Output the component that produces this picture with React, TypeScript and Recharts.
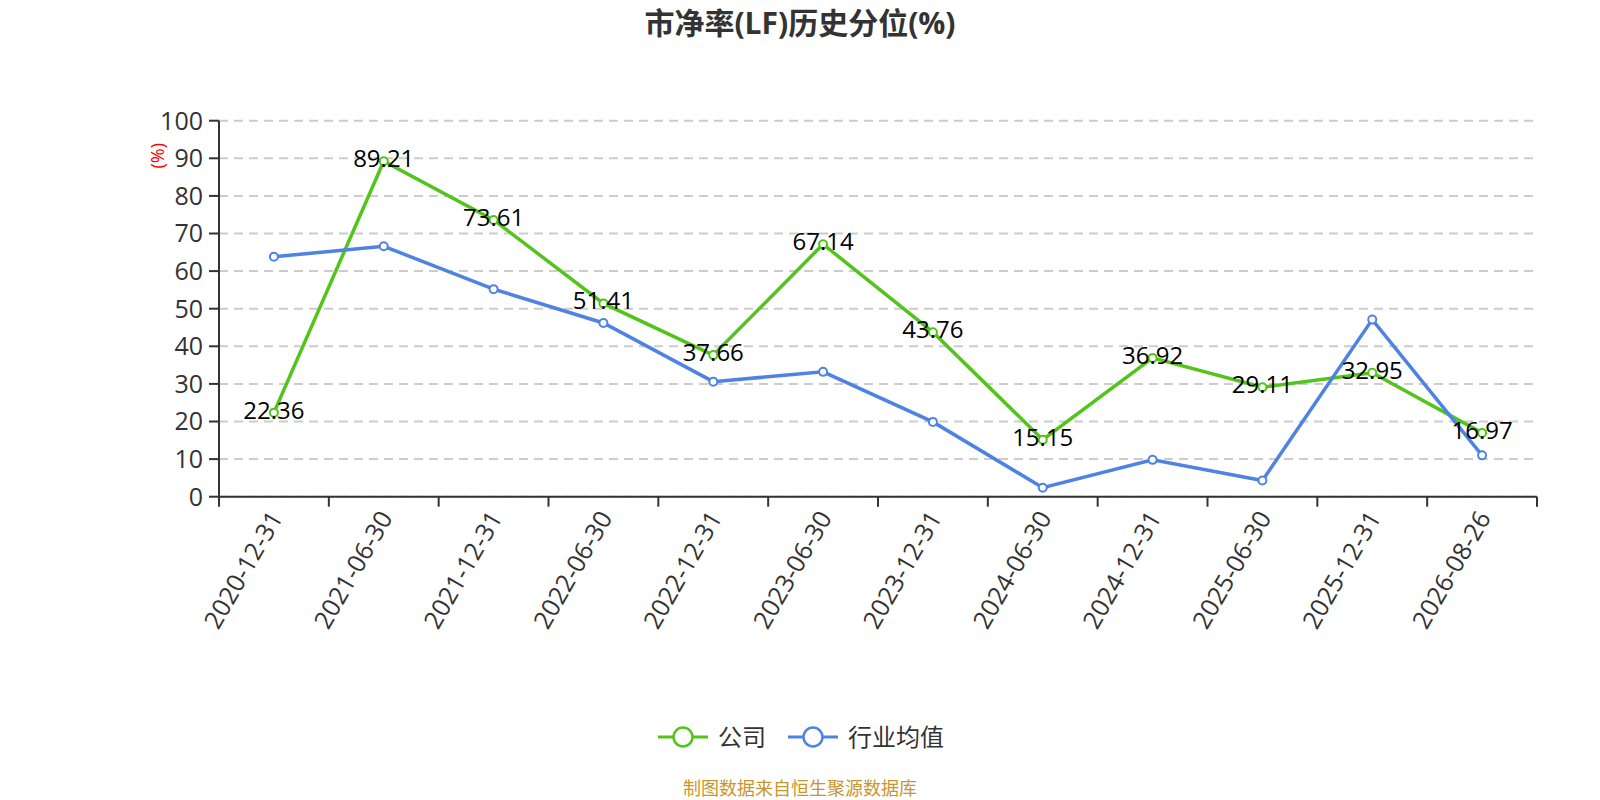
import React from 'react';
import { LineChart, Line, XAxis, YAxis, CartesianGrid } from 'recharts';

const dates = [
  '2020-12-31', '2021-06-30', '2021-12-31', '2022-06-30', '2022-12-31', '2023-06-30',
  '2023-12-31', '2024-06-30', '2024-12-31', '2025-06-30', '2025-12-31', '2026-08-26',
];
const companyValues = [22.36, 89.21, 73.61, 51.41, 37.66, 67.14, 43.76, 15.15, 36.92, 29.11, 32.95, 16.97];
const industryValues = [63.8, 66.6, 55.2, 46.2, 30.6, 33.2, 19.9, 2.4, 9.8, 4.3, 47.1, 11.0];
const yTicks = [0, 10, 20, 30, 40, 50, 60, 70, 80, 90, 100];

const GREEN = '#52C41A';
const BLUE = '#4E83E3';
const FONT = "'Open Sans', 'Noto Sans CJK SC', sans-serif";

const data = dates.map((d, i) => ({
  x: i + 0.5,
  date: d,
  company: companyValues[i],
  industry: industryValues[i],
}));

const xTicks: number[] = [];
for (let i = 0; i <= dates.length * 2; i++) xTicks.push(i / 2);

const XTick = (props: any) => {
  const { x, y, payload } = props;
  const v = payload.value;
  if (Number.isInteger(v)) {
    return <line x1={x} x2={x} y1={y} y2={y + 10} stroke="#333" strokeWidth={2} />;
  }
  const label = dates[Math.floor(v)];
  const ty = y + 16;
  return (
    <text
      x={x + 1}
      y={ty}
      textAnchor="end"
      dominantBaseline="central"
      fontSize={25}
      fill="#333"
      fontFamily={FONT}
      transform={`rotate(-60 ${x + 1} ${ty})`}
    >
      {label}
    </text>
  );
};

const renderValueLabel = (props: any) => {
  const px = props.x ?? props.viewBox?.x;
  const py = props.y ?? props.viewBox?.y;
  if (px == null || py == null) return null;
  return (
    <text
      key={`lbl-${props.index}`}
      x={px}
      y={py + 6}
      textAnchor="middle"
      fontSize={24}
      fill="#000"
      fontFamily={FONT}
    >
      {props.value}
    </text>
  );
};

const yLabel = (props: any) => {
  const vb = props.viewBox || {};
  const cx = (vb.x ?? 159) - 2;
  const cy = (vb.y ?? 120) + 35;
  return (
    <text
      x={cx}
      y={cy}
      textAnchor="middle"
      dominantBaseline="central"
      fontSize={18}
      fill="#FF0000"
      fontFamily={FONT}
      transform={`rotate(-90 ${cx} ${cy})`}
    >
      (%)
    </text>
  );
};

const LegendIcon = ({ color }: { color: string }) => (
  <svg width={50} height={24} style={{ display: 'block' }}>
    <line x1={0} x2={50} y1={12} y2={12} stroke={color} strokeWidth={3} />
    <circle cx={25} cy={12} r={9.5} fill="#fff" stroke={color} strokeWidth={2.5} />
  </svg>
);

export default function App() {
  return (
    <div
      style={{
        position: 'absolute',
        left: 0,
        top: 0,
        width: 1600,
        height: 800,
        background: '#fff',
        fontFamily: FONT,
        overflow: 'hidden',
      }}
    >
      <div
        style={{
          position: 'absolute',
          left: 0,
          top: 3,
          width: 1600,
          textAlign: 'center',
          fontSize: 30,
          fontWeight: 'bold',
          color: '#333',
          lineHeight: '40px',
        }}
      >
        市净率(LF)历史分位(%)
      </div>
      <div style={{ position: 'absolute', left: 0, top: 0 }}>
        <LineChart
          width={1600}
          height={800}
          data={data}
          margin={{ top: 120.7, right: 63, bottom: 203.3, left: 159 }}
        >
          <CartesianGrid
            vertical={false}
            stroke="#CCCCCC"
            strokeWidth={2}
            strokeDasharray="9 6"
          />
          <XAxis
            dataKey="x"
            type="number"
            domain={[0, dates.length]}
            ticks={xTicks}
            interval={0}
            tickLine={false}
            tickSize={0}
            tickMargin={0}
            height={100}
            axisLine={{ stroke: '#333', strokeWidth: 2 }}
            tick={<XTick />}
            allowDataOverflow
          />
          <YAxis
            type="number"
            domain={[0, 100]}
            ticks={yTicks}
            interval={0}
            width={60}
            tickSize={10}
            tickMargin={6}
            axisLine={{ stroke: '#333', strokeWidth: 2 }}
            tickLine={{ stroke: '#333', strokeWidth: 2 }}
            tick={{ fontSize: 25, fill: '#333', fontFamily: FONT }}
            label={yLabel}
          />
          <Line
            type="linear"
            dataKey="company"
            stroke={GREEN}
            strokeWidth={3.5}
            dot={{ r: 4, fill: '#fff', stroke: GREEN, strokeWidth: 2 }}
            activeDot={false}
            isAnimationActive={false}
          />
          <Line
            type="linear"
            dataKey="industry"
            stroke={BLUE}
            strokeWidth={3.5}
            dot={{ r: 4, fill: '#fff', stroke: BLUE, strokeWidth: 2 }}
            activeDot={false}
            isAnimationActive={false}
          />
          <Line
            type="linear"
            dataKey="company"
            stroke="none"
            dot={false}
            activeDot={false}
            legendType="none"
            isAnimationActive={false}
            label={renderValueLabel}
          />
        </LineChart>
      </div>
      <div
        style={{
          position: 'absolute',
          left: 658,
          top: 722,
          display: 'flex',
          alignItems: 'center',
          fontSize: 24,
          color: '#333',
          lineHeight: '30px',
        }}
      >
        <LegendIcon color={GREEN} />
        <span style={{ marginLeft: 10 }}>公司</span>
        <span style={{ marginLeft: 22 }}>
          <LegendIcon color={BLUE} />
        </span>
        <span style={{ marginLeft: 10 }}>行业均值</span>
      </div>
      <div
        style={{
          position: 'absolute',
          left: 0,
          top: 776,
          width: 1600,
          textAlign: 'center',
          fontSize: 18,
          color: '#C8962D',
          lineHeight: '24px',
        }}
      >
        制图数据来自恒生聚源数据库
      </div>
    </div>
  );
}
